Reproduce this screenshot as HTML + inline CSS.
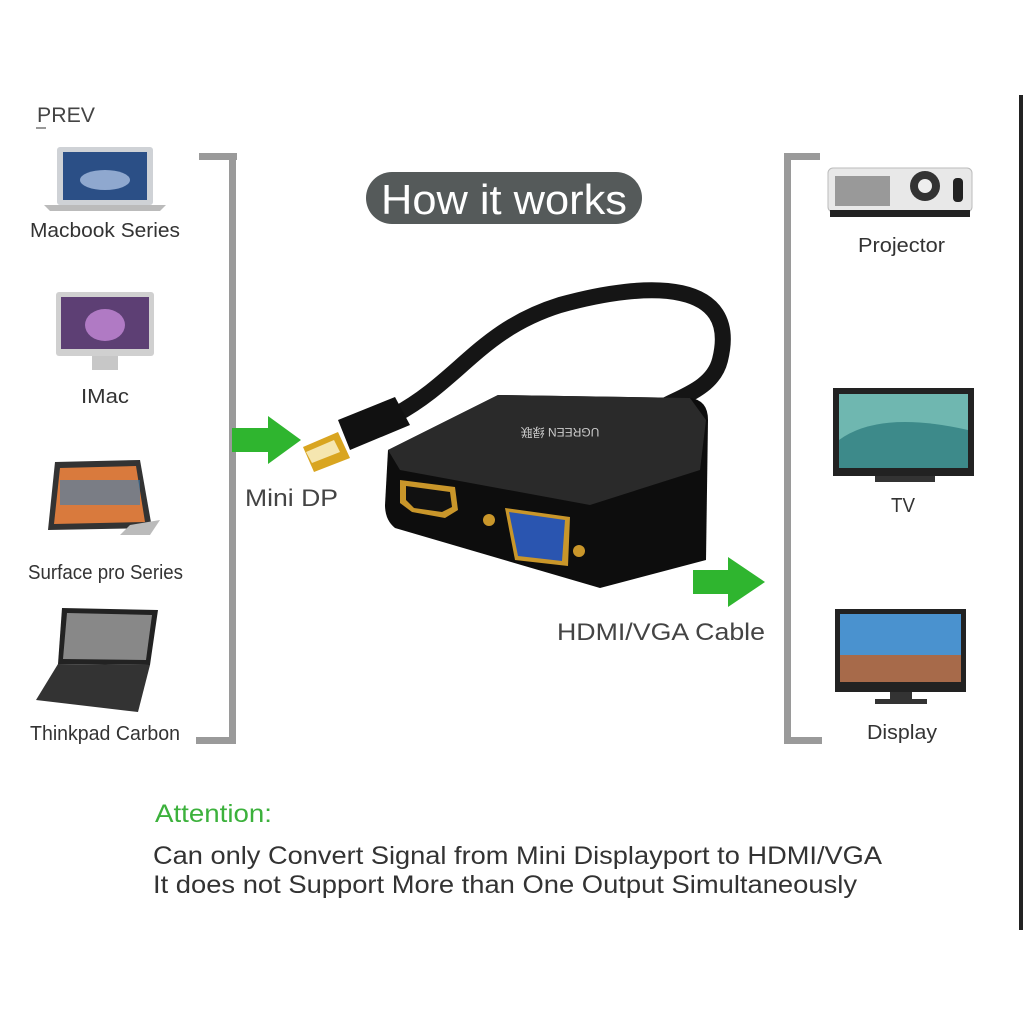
<!DOCTYPE html>
<html><head><meta charset="utf-8"><style>
body{margin:0;background:#fff;}
svg{display:block}
text{font-family:"Liberation Sans",sans-serif;}
</style></head><body>
<svg width="1024" height="1024" viewBox="0 0 1024 1024">
<rect width="1024" height="1024" fill="#fff"/>
<rect x="1019" y="95" width="4" height="835" fill="#222"/>
<text x="37" y="122" font-size="21" fill="#444" textLength="58" lengthAdjust="spacingAndGlyphs">PREV</text>
<rect x="36" y="127" width="10" height="2" fill="#999"/>
<g fill="#9a9a9a">
<rect x="199" y="153" width="38" height="7"/><rect x="229" y="153" width="7" height="591"/><rect x="196" y="737" width="40" height="7"/>
<rect x="784" y="153" width="36" height="7"/><rect x="784" y="153" width="7" height="591"/><rect x="784" y="737" width="38" height="7"/>
</g>
<rect x="366" y="172" width="276" height="52" rx="26" fill="#555a5a"/>
<text x="381" y="214" font-size="42" fill="#fff" textLength="246" lengthAdjust="spacingAndGlyphs">How it works</text>
<g>
<rect x="57" y="147" width="96" height="58" rx="3" fill="#cfd2d6"/>
<rect x="63" y="152" width="84" height="48" fill="#2b4f86"/>
<ellipse cx="105" cy="180" rx="25" ry="10" fill="#8fa8cf"/>
<path d="M44 205 H166 L160 211 H50 Z" fill="#bbb"/>
<text x="30" y="237" font-size="20" fill="#333" textLength="150" lengthAdjust="spacingAndGlyphs">Macbook Series</text>
<rect x="56" y="292" width="98" height="64" rx="3" fill="#d0d0d0"/>
<rect x="61" y="297" width="88" height="52" fill="#5d3f74"/>
<ellipse cx="105" cy="325" rx="20" ry="16" fill="#b07ac4"/>
<rect x="92" y="356" width="26" height="14" fill="#c7c7c7"/>
<text x="81" y="403" font-size="20" fill="#333" textLength="48" lengthAdjust="spacingAndGlyphs">IMac</text>
<path d="M55 462 L140 460 L152 528 L48 530 Z" fill="#333"/>
<path d="M60 468 L136 466 L145 522 L54 524 Z" fill="#d97a3d"/>
<rect x="60" y="480" width="80" height="25" fill="#3a7fb5" opacity="0.6"/>
<path d="M130 525 L160 520 L150 535 L120 535Z" fill="#bbb"/>
<text x="28" y="579" font-size="20" fill="#333" textLength="155" lengthAdjust="spacingAndGlyphs">Surface pro Series</text>
<path d="M62 608 L158 610 L150 665 L58 664 Z" fill="#222"/>
<path d="M67 613 L152 615 L146 660 L63 659 Z" fill="#888"/>
<path d="M58 664 L150 665 L138 712 L36 700 Z" fill="#333"/>
<text x="30" y="740" font-size="20" fill="#333" textLength="150" lengthAdjust="spacingAndGlyphs">Thinkpad Carbon</text>
</g>
<g>
<rect x="828" y="168" width="144" height="44" rx="5" fill="#e8e8e8" stroke="#bbb"/>
<rect x="835" y="176" width="55" height="30" fill="#999"/>
<circle cx="925" cy="186" r="15" fill="#333"/><circle cx="925" cy="186" r="7" fill="#eee"/>
<rect x="953" y="178" width="10" height="24" rx="4" fill="#222"/>
<rect x="830" y="210" width="140" height="7" fill="#222"/>
<text x="858" y="252" font-size="20" fill="#333" textLength="87" lengthAdjust="spacingAndGlyphs">Projector</text>
<rect x="833" y="388" width="141" height="88" fill="#222"/>
<rect x="839" y="394" width="129" height="74" fill="#6fb7b0"/>
<path d="M839 440 Q880 410 968 430 V468 H839Z" fill="#3d8a8a"/>
<rect x="875" y="476" width="60" height="6" fill="#333"/>
<text x="891" y="512" font-size="20" fill="#333" textLength="24" lengthAdjust="spacingAndGlyphs">TV</text>
<rect x="835" y="609" width="131" height="83" fill="#222"/>
<rect x="840" y="614" width="121" height="68" fill="#4a92cf"/>
<rect x="840" y="655" width="121" height="27" fill="#a76a4a"/>
<rect x="890" y="692" width="22" height="8" fill="#333"/><rect x="875" y="699" width="52" height="5" fill="#333"/>
<text x="867" y="739" font-size="20" fill="#333" textLength="70" lengthAdjust="spacingAndGlyphs">Display</text>
</g>
<path d="M232 428 H268 V416 L301 440 L268 464 V452 H232Z" fill="#2fb52f"/>
<path d="M693 570 H728 V557 L765 582 L728 607 V594 H693Z" fill="#2fb52f"/>
<text x="245" y="506" font-size="24" fill="#444" textLength="93" lengthAdjust="spacingAndGlyphs">Mini DP</text>
<text x="557" y="640" font-size="24" fill="#444" textLength="208" lengthAdjust="spacingAndGlyphs">HDMI/VGA Cable</text>
<path d="M395 415 C460 380 480 330 560 305 C650 280 740 280 720 360 C710 400 650 400 645 425" fill="none" stroke="#151515" stroke-width="16" stroke-linecap="round"/>
<path d="M338 420 L395 397 L410 425 L350 450 Z" fill="#111"/>
<path d="M303 447 L338 432 L350 458 L314 472 Z" fill="#d9a520"/>
<path d="M306 452 L334 440 L340 452 L312 463Z" fill="#f5e6b0"/>
<path d="M388 450 L498 395 L690 398 Q708 400 708 420 L706 560 L600 588 L395 528 Q385 520 385 505 Z" fill="#0d0d0d"/>
<path d="M388 450 L498 395 L690 398 L706 420 L700 470 L590 505 L400 470 Z" fill="#2a2a2a"/>
<text x="560" y="428" font-size="12" fill="#ccc" transform="rotate(180 560 428)" text-anchor="middle">UGREEN 绿联</text>
<path d="M400 480 L455 487 L458 510 L445 518 L412 512 L400 503Z" fill="#c9962a"/>
<path d="M406 486 L450 492 L452 507 L442 512 L414 508 L406 500Z" fill="#111"/>
<circle cx="489" cy="520" r="6" fill="#c9962a"/>
<path d="M505 508 L570 517 L568 566 L515 560 Z" fill="#c9962a"/>
<path d="M509 512 L565 520 L562 561 L518 556 Z" fill="#2a55b0"/>
<circle cx="579" cy="551" r="6" fill="#c9962a"/>
<text x="155" y="822" font-size="25" fill="#3cb13c" textLength="117" lengthAdjust="spacingAndGlyphs">Attention:</text>
<text x="153" y="864" font-size="25" fill="#333" textLength="729" lengthAdjust="spacingAndGlyphs">Can only Convert Signal from Mini Displayport to HDMI/VGA</text>
<text x="153" y="893" font-size="25" fill="#333" textLength="704" lengthAdjust="spacingAndGlyphs">It does not Support More than One Output Simultaneously</text>
</svg>
</body></html>
